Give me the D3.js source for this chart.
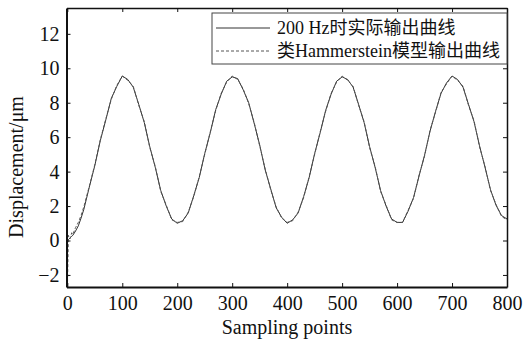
<!DOCTYPE html>
<html>
<head>
<meta charset="utf-8">
<style>
  body { margin: 0; background: #fff; }
  svg text { font-family: "Liberation Serif", "Noto Sans CJK SC", serif; fill: #111; }
  .axis path, .axis line { stroke: #111; }
</style>
<script src="https://d3js.org/d3.v7.min.js"></script>
</head>
<body>
<div id="chart"></div>
<script>
// sample positions (denser at the start where the transient is)
var sampleX = [0, 2, 5, 8, 10, 15, 20, 25, 30].concat(d3.range(40, 801, 10));

// 200 Hz measured output
var actualY = [
  0.0, 0.05, 0.15, 0.25, 0.3, 0.55, 0.85, 1.3, 1.8,
  3.1, 4.35, 5.8, 7.0, 8.25, 8.95,
  9.55, 9.35, 8.9, 7.9, 6.85, 5.45, 4.25, 2.9, 2.0, 1.25,
  1.0, 1.15, 1.6, 2.6, 3.65, 5.05, 6.25, 7.6, 8.5, 9.25,
  9.5, 9.4, 8.75, 8.0, 6.8, 5.55, 4.1, 3.0, 1.9, 1.35,
  1.0, 1.2, 1.6, 2.55, 3.65, 5.05, 6.25, 7.55, 8.5, 9.25,
  9.5, 9.35, 8.9, 7.9, 6.85, 5.45, 4.25, 2.9, 2.0, 1.25,
  1.05, 1.05, 1.7, 2.5, 3.75, 4.95, 6.35, 7.5, 8.55, 9.15,
  9.55, 9.35, 8.9, 7.9, 6.9, 5.5, 4.25, 2.95, 2.05, 1.45,
  1.25
];

// Hammerstein-like model output
var modelY = [
  -3.0, 0.3, 0.1, 0.45, 0.35, 0.75, 1.05, 1.45, 1.95,
  3.15, 4.4, 5.85, 7.05, 8.2, 9.0,
  9.55, 9.3, 8.95, 7.85, 6.9, 5.4, 4.3, 2.85, 2.05, 1.2,
  1.05, 1.1, 1.65, 2.55, 3.7, 5.0, 6.3, 7.55, 8.55, 9.2,
  9.55, 9.35, 8.8, 7.95, 6.85, 5.5, 4.15, 2.95, 1.95, 1.3,
  1.05, 1.15, 1.65, 2.5, 3.7, 5.0, 6.3, 7.5, 8.55, 9.2,
  9.55, 9.3, 8.95, 7.85, 6.9, 5.4, 4.3, 2.85, 2.05, 1.2,
  1.05, 1.05, 1.75, 2.45, 3.8, 4.9, 6.4, 7.45, 8.6, 9.1,
  9.55, 9.3, 8.95, 7.85, 6.95, 5.45, 4.3, 2.9, 2.1, 1.4,
  1.2
];

var xTicks = [0, 100, 200, 300, 400, 500, 600, 700, 800];
var yTicks = [-2, 0, 2, 4, 6, 8, 10, 12];
var legendLabels = ["200 Hz时实际输出曲线", "类Hammerstein模型输出曲线"];

var W = 524, H = 349;
var margin = {top: 8, right: 17, bottom: 62, left: 66.5};
var width = W - margin.left - margin.right,
    height = H - margin.top - margin.bottom;

var svg = d3.select("#chart").append("svg")
    .attr("width", W)
    .attr("height", H);

var g = svg.append("g")
    .attr("transform", "translate(" + margin.left + "," + margin.top + ")");

var x = d3.scaleLinear().domain([-1.5, 800]).range([0, width]);
var y = d3.scaleLinear().domain([-2.7, 13.5]).range([height, 0]);

g.append("clipPath").attr("id", "clip")
  .append("rect").attr("width", width).attr("height", height);

// lines
var line = function(ys) {
  return d3.line()
    .x(function(d, i) { return x(sampleX[i]); })
    .y(function(d) { return y(d); })(ys);
};

g.append("path")
    .attr("clip-path", "url(#clip)")
    .attr("d", line(actualY))
    .attr("fill", "none")
    .attr("stroke", "#333")
    .attr("stroke-width", 1);

g.append("path")
    .attr("clip-path", "url(#clip)")
    .attr("d", line(modelY))
    .attr("fill", "none")
    .attr("stroke", "#555")
    .attr("stroke-width", 1)
    .attr("stroke-dasharray", "3,2");

// axes, ticks pointing inward
var fontSize = "20px";
g.append("g").attr("class", "axis")
    .attr("transform", "translate(0," + height + ")")
    .call(d3.axisBottom(x).tickValues(xTicks).tickSizeInner(-4).tickSizeOuter(0).tickPadding(9))
    .call(function(a) { a.selectAll("text").style("font-size", fontSize); a.select(".domain").attr("stroke-width", 2); });

g.append("g").attr("class", "axis")
    .call(d3.axisLeft(y).tickValues(yTicks).tickSizeInner(-4).tickSizeOuter(0).tickPadding(7))
    .call(function(a) { a.selectAll("text").style("font-size", fontSize); a.select(".domain").attr("stroke-width", 2); });

g.append("g").attr("class", "axis")
    .call(d3.axisTop(x).tickValues(xTicks).tickSizeInner(-4).tickSizeOuter(0).tickFormat(""))
    .call(function(a) { a.select(".domain").attr("stroke-width", 1.5); });

g.append("g").attr("class", "axis")
    .attr("transform", "translate(" + width + ",0)")
    .call(d3.axisRight(y).tickValues(yTicks).tickSizeInner(-4).tickSizeOuter(0).tickFormat(""))
    .call(function(a) { a.select(".domain").attr("stroke-width", 1.5); });

// axis titles
svg.append("text")
    .attr("x", 287)
    .attr("y", 334)
    .attr("text-anchor", "middle")
    .style("font-size", "20px")
    .text("Sampling points");

svg.append("text")
    .attr("transform", "translate(23,167) rotate(-90)")
    .attr("text-anchor", "middle")
    .style("font-size", "20px")
    .text("Displacement/μm");

// legend
var lg = svg.append("g");
lg.append("rect")
    .attr("x", 212).attr("y", 13)
    .attr("width", 295).attr("height", 51)
    .attr("fill", "#fff")
    .attr("stroke", "#444")
    .attr("stroke-width", 1);

legendLabels.forEach(function(t, i) {
  var yy = 28 + i * 23;
  lg.append("line")
      .attr("x1", 216).attr("x2", 270)
      .attr("y1", yy).attr("y2", yy)
      .attr("stroke", i ? "#555" : "#333")
      .attr("stroke-dasharray", i ? "3,2" : null);
  lg.append("text")
      .attr("x", 277).attr("y", yy + 6)
      .style("font-size", "18px")
      .text(t);
});
</script>
</body>
</html>
